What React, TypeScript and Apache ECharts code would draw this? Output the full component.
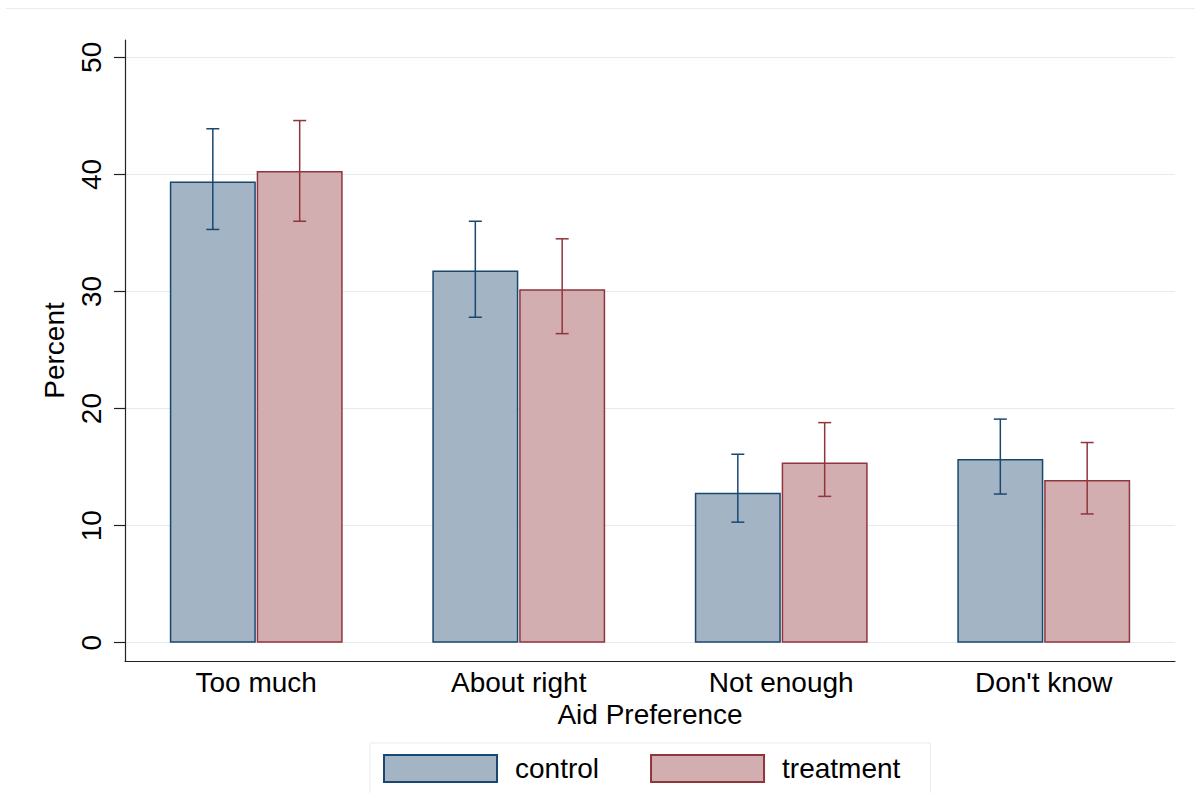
import React, { useEffect, useRef } from "react";
import * as echarts from "echarts";

const categories = ["Too much", "About right", "Not enough", "Don't know"];
const controlValues = [39.4, 31.8, 12.8, 15.7];
const controlLow = [35.3, 27.8, 10.3, 12.7];
const controlHigh = [43.9, 36.0, 16.1, 19.1];
const treatmentValues = [40.3, 30.2, 15.4, 13.9];
const treatmentLow = [36.0, 26.4, 12.5, 11.0];
const treatmentHigh = [44.6, 34.5, 18.8, 17.1];
const yTicks = [0, 10, 20, 30, 40, 50];

const FONT = "'Liberation Sans', Arial, sans-serif";
const FS = 28;
const NAVY = "#1a476f";
const MAROON = "#90353b";
const NAVY_FILL = "#a3b5c5";
const MAROON_FILL = "#d3aeb1";
const BAR_W = 86;
const GAP_PCT = 1;
const OFFSET = (BAR_W * (1 + GAP_PCT / 100)) / 2;

function errorSeries(name: string, low: number[], high: number[], color: string, sign: number) {
  return {
    type: "custom",
    name: name + " CI",
    z: 5,
    silent: true,
    encode: { x: 0, y: [1, 2] },
    data: categories.map((_, i) => [i, low[i], high[i]]),
    renderItem: (params: any, api: any) => {
      const i = api.value(0);
      const lo = api.coord([i, api.value(1)]);
      const hi = api.coord([i, api.value(2)]);
      const x = lo[0] + sign * OFFSET;
      const cap = 6.5;
      const st = { stroke: color, lineWidth: 1.5 };
      return {
        type: "group",
        children: [
          { type: "line", shape: { x1: x, y1: hi[1], x2: x, y2: lo[1] }, style: st },
          { type: "line", shape: { x1: x - cap, y1: hi[1], x2: x + cap, y2: hi[1] }, style: st },
          { type: "line", shape: { x1: x - cap, y1: lo[1], x2: x + cap, y2: lo[1] }, style: st },
        ],
      };
    },
  };
}

export default function App() {
  const ref = useRef<HTMLDivElement>(null);
  useEffect(() => {
    if (!ref.current) return;
    const chart = echarts.init(ref.current, null, { renderer: "svg" });
    chart.setOption({
      animation: false,
      backgroundColor: "#ffffff",
      textStyle: { fontFamily: FONT },
      grid: { left: 125, right: 20, top: 40, bottom: 132 },
      graphic: [
        {
          type: "line",
          shape: { x1: 6, y1: 8.5, x2: 1195, y2: 8.5 },
          style: { stroke: "#e6edf2", lineWidth: 1 },
        },
      ],
      legend: {
        data: ["control", "treatment"],
        left: 370,
        top: 743,
        orient: "horizontal",
        icon: "rect",
        itemWidth: 113,
        itemHeight: 27,
        itemGap: 51,
        padding: [11, 30, 12, 13],
        borderColor: "#e6edf2",
        borderWidth: 1,
        backgroundColor: "#ffffff",
        selectedMode: false,
        textStyle: { fontSize: FS, color: "#000", fontFamily: FONT, padding: [0, 0, 0, 13] },
      },
      xAxis: {
        type: "category",
        data: categories,
        name: "Aid Preference",
        nameLocation: "middle",
        nameGap: 33,
        nameTextStyle: { fontSize: FS, color: "#000", fontFamily: FONT },
        axisLine: { onZero: false, lineStyle: { color: "#222", width: 1.2 } },
        axisTick: { show: false },
        axisLabel: { fontSize: FS, color: "#000", margin: 7, fontFamily: FONT },
        splitLine: { show: false },
      },
      yAxis: {
        type: "value",
        min: -1.56,
        max: 51.48,
        name: "Percent",
        nameLocation: "middle",
        nameRotate: 90,
        nameGap: 57,
        nameTextStyle: { fontSize: FS, color: "#000", fontFamily: FONT },
        axisLine: { show: true, lineStyle: { color: "#222", width: 1.2 } },
        axisTick: { show: true, length: 11, customValues: yTicks, lineStyle: { color: "#222", width: 1.2 } },
        axisLabel: { rotate: 90, fontSize: FS, color: "#000", margin: 20, customValues: yTicks, fontFamily: FONT },
        splitLine: { show: true, lineStyle: { color: "#e3ebee", width: 1 } },
      },
      series: [
        {
          type: "bar",
          name: "control",
          data: controlValues,
          barWidth: BAR_W,
          barGap: GAP_PCT + "%",
          z: 2,
          itemStyle: { color: NAVY_FILL, borderColor: NAVY, borderWidth: 1.5 },
        },
        {
          type: "bar",
          name: "treatment",
          data: treatmentValues,
          barWidth: BAR_W,
          barGap: GAP_PCT + "%",
          z: 2,
          itemStyle: { color: MAROON_FILL, borderColor: MAROON, borderWidth: 1.5 },
        },
        errorSeries("control", controlLow, controlHigh, NAVY, -1),
        errorSeries("treatment", treatmentLow, treatmentHigh, MAROON, 1),
      ],
    });
    return () => chart.dispose();
  }, []);
  return (
    <div
      ref={ref}
      style={{ position: "absolute", left: 0, top: 0, width: 1195, height: 793, background: "#fff" }}
    />
  );
}
